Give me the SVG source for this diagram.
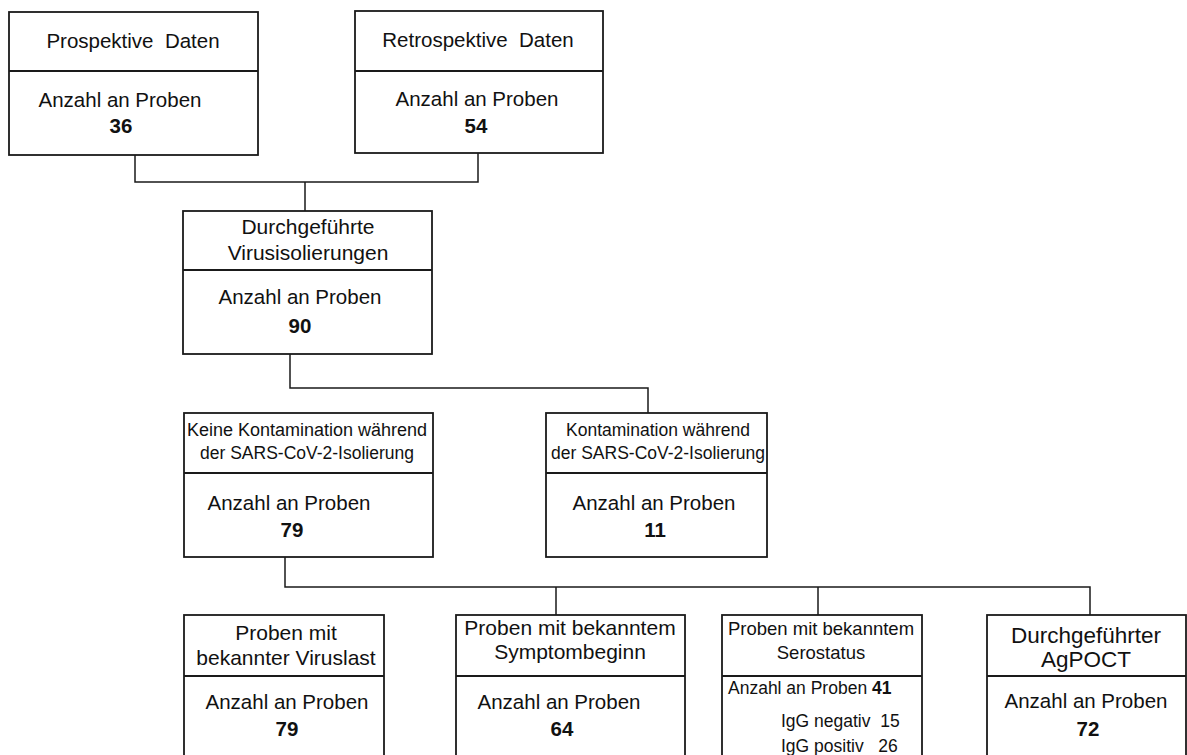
<svg xmlns="http://www.w3.org/2000/svg" width="1187" height="755" viewBox="0 0 1187 755">
<style>
text{font-family:"Liberation Sans",Arial,sans-serif;fill:#111;white-space:pre}
.b{font-size:20.5px}
.h{font-size:21px}
.s{font-size:17.5px}
.m{text-anchor:middle}
.n{font-weight:bold}
.box{fill:#fff;stroke:#1a1a1a;stroke-width:1.8}
.div{stroke:#1a1a1a;stroke-width:1.8}
.con{fill:none;stroke:#1a1a1a;stroke-width:1.5}
</style>
<rect width="1187" height="755" fill="#fff"/>
<g id="connectors">
<path class="con" d="M135 155V182H478V153M305 182V211"/>
<path class="con" d="M290 354V388H648V413"/>
<path class="con" d="M285 557V587H1090V615M556 587V615M818 587V615"/>
</g>
<g id="prospektiv">
<rect class="box" x="9" y="12" width="249" height="143"/>
<line class="div" x1="9" y1="71" x2="258" y2="71"/>
<text class="b m" x="133" y="48">Prospektive  Daten</text>
<text class="b m" x="120" y="107">Anzahl an Proben</text>
<text class="b m n" x="121" y="133">36</text>
</g>
<g id="retrospektiv">
<rect class="box" x="355" y="11" width="248" height="142"/>
<line class="div" x1="355" y1="71" x2="603" y2="71"/>
<text class="b m" x="478" y="47">Retrospektive  Daten</text>
<text class="b m" x="477" y="106">Anzahl an Proben</text>
<text class="b m n" x="476" y="133">54</text>
</g>
<g id="virusisolierung">
<rect class="box" x="183" y="211" width="249" height="143"/>
<line class="div" x1="183" y1="270" x2="432" y2="270"/>
<text class="h m" x="308" y="234">Durchgeführte</text>
<text class="h m" x="308" y="260">Virusisolierungen</text>
<text class="b m" x="300" y="304">Anzahl an Proben</text>
<text class="b m n" x="300" y="333">90</text>
</g>
<g id="keine-kontamination">
<rect class="box" x="184" y="413" width="249" height="144"/>
<line class="div" x1="184" y1="473" x2="433" y2="473"/>
<text class="s m" x="307" y="436" style="font-size:18px">Keine Kontamination während</text>
<text class="s m" x="307" y="459">der SARS-CoV-2-Isolierung</text>
<text class="b m" x="289" y="510">Anzahl an Proben</text>
<text class="b m n" x="292" y="537">79</text>
</g>
<g id="kontamination">
<rect class="box" x="546" y="413" width="221" height="144"/>
<line class="div" x1="546" y1="473" x2="767" y2="473"/>
<text class="s m" x="658" y="436">Kontamination während</text>
<text class="s m" x="658" y="459">der SARS-CoV-2-Isolierung</text>
<text class="b m" x="654" y="510">Anzahl an Proben</text>
<text class="b m n" x="655" y="537">11</text>
</g>
<g id="viruslast">
<rect class="box" x="184" y="615" width="200" height="150"/>
<line class="div" x1="184" y1="676" x2="384" y2="676"/>
<text class="h m" x="286" y="640">Proben mit</text>
<text class="h m" x="286" y="665">bekannter Viruslast</text>
<text class="b m" x="287" y="709">Anzahl an Proben</text>
<text class="b m n" x="287" y="736">79</text>
</g>
<g id="symptombeginn">
<rect class="box" x="456" y="615" width="229" height="150"/>
<line class="div" x1="456" y1="676" x2="685" y2="676"/>
<text class="s m" x="570" y="635" style="font-size:21px">Proben mit bekanntem</text>
<text class="s m" x="570" y="659" style="font-size:21px">Symptombeginn</text>
<text class="b m" x="559" y="709">Anzahl an Proben</text>
<text class="b m n" x="562" y="736">64</text>
</g>
<g id="serostatus">
<rect class="box" x="722" y="615" width="200" height="150"/>
<line class="div" x1="722" y1="676" x2="922" y2="676"/>
<text class="s m" x="821" y="635" style="font-size:18.5px">Proben mit bekanntem</text>
<text class="s m" x="821" y="659" style="font-size:18.5px">Serostatus</text>
<text class="s" x="728" y="694">Anzahl an Proben <tspan class="n">41</tspan></text>
<text class="s" x="781" y="727">IgG negativ  15</text>
<text class="s" x="781" y="752">IgG positiv   26</text>
</g>
<g id="agpoct">
<rect class="box" x="987" y="615" width="199" height="150"/>
<line class="div" x1="987" y1="676" x2="1186" y2="676"/>
<text class="h m" x="1086" y="643" style="font-size:22.5px">Durchgeführter</text>
<text class="h m" x="1086" y="667" style="font-size:22.5px">AgPOCT</text>
<text class="b m" x="1086" y="708">Anzahl an Proben</text>
<text class="b m n" x="1088" y="736">72</text>
</g>
</svg>
